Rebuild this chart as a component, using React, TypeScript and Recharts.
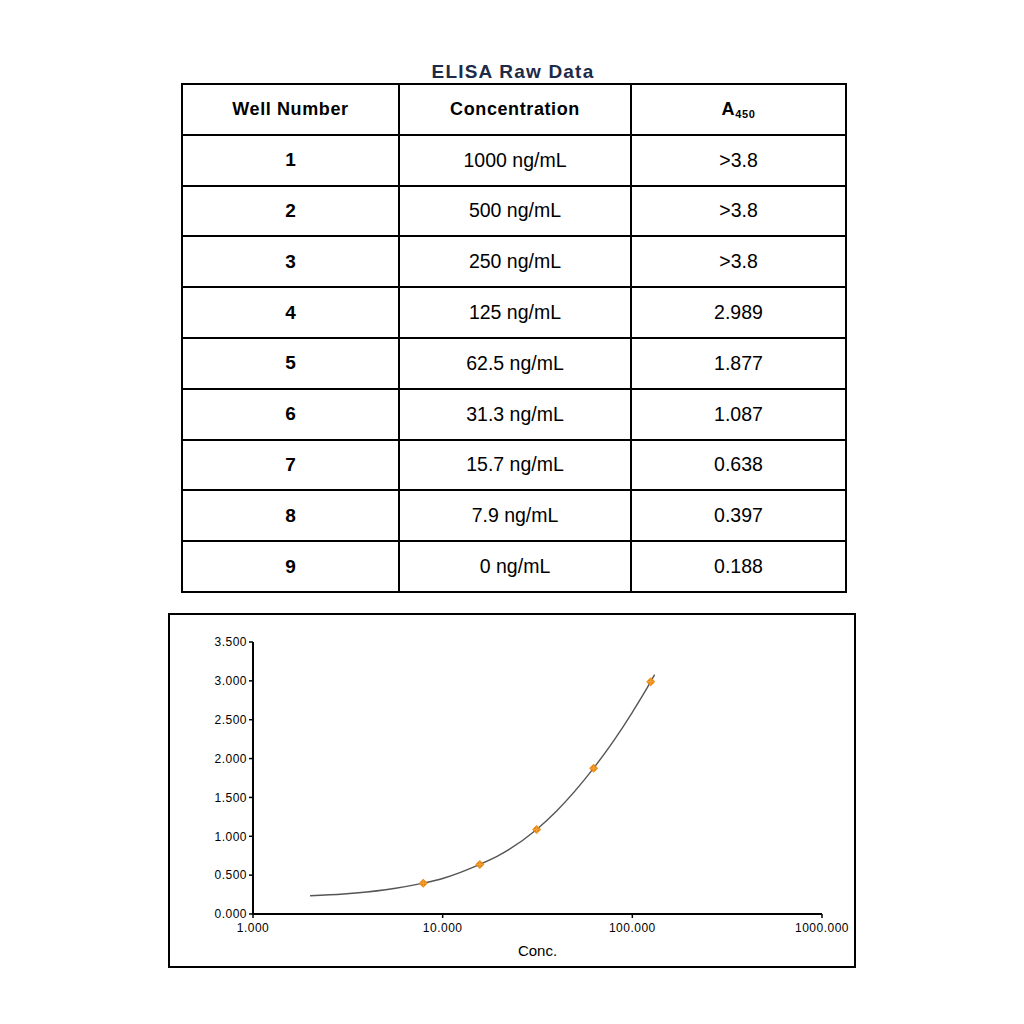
import React from "react"
import { ScatterChart, Scatter, XAxis, YAxis } from "recharts"

const wells = ["1", "2", "3", "4", "5", "6", "7", "8", "9"]
const concLabels = ["1000 ng/mL", "500 ng/mL", "250 ng/mL", "125 ng/mL", "62.5 ng/mL", "31.3 ng/mL", "15.7 ng/mL", "7.9 ng/mL", "0 ng/mL"]
const absLabels = [">3.8", ">3.8", ">3.8", "2.989", "1.877", "1.087", "0.638", "0.397", "0.188"]

// measured standards plotted on the curve
const stdConc = [7.9, 15.7, 31.3, 62.5, 125]
const stdAbs = [0.397, 0.638, 1.087, 1.877, 2.989]

// fitted curve
const fitConc = [2, 3, 5, 7.9, 10, 15.7, 20, 31.3, 40, 62.5, 80, 100, 125, 131]
const fitAbs = [0.235, 0.258, 0.312, 0.397, 0.457, 0.638, 0.761, 1.087, 1.329, 1.877, 2.235, 2.596, 2.989, 3.08]

const xTicks = [1, 10, 100, 1000]
const yTicks = [0, 0.5, 1, 1.5, 2, 2.5, 3, 3.5]

const points = stdConc.map((x, i) => ({ x, y: stdAbs[i] }))
const curve = fitConc.map((x, i) => ({ x, y: fitAbs[i] }))

const font = "'Liberation Sans', Arial, sans-serif"

const Marker = (props: any) => {
  const { cx, cy } = props
  if (cx == null || cy == null) return null
  return (
    <g>
      <path d={`M${cx - 4.5},${cy} L${cx},${cy - 4.5} L${cx + 4.5},${cy} L${cx},${cy + 4.5} Z`} fill="#E8860C" />
      <path d={`M${cx - 3.5},${cy} H${cx + 3.5} M${cx},${cy - 3.5} V${cy + 3.5}`} stroke="#F2A03A" strokeWidth={1.2} />
    </g>
  )
}

const cell: React.CSSProperties = {
  border: "2px solid #000",
  textAlign: "center",
  padding: 0,
  height: 48.8,
}

export default function App() {
  return (
    <div style={{ position: "absolute", left: 0, top: 0, width: 1024, height: 1024, background: "#fff", fontFamily: font }}>
      <div style={{ position: "absolute", left: 181, top: 61, width: 664, textAlign: "center", fontSize: 19, fontWeight: "bold", color: "#1d2a48", letterSpacing: 1.2 }}>
        ELISA Raw Data
      </div>

      <table style={{ position: "absolute", left: 181, top: 83, width: 664, borderCollapse: "collapse", tableLayout: "fixed", color: "#000" }}>
        <colgroup>
          <col style={{ width: 217 }} />
          <col style={{ width: 232 }} />
          <col style={{ width: 215 }} />
        </colgroup>
        <thead>
          <tr>
            <th style={{ ...cell, fontSize: 18, letterSpacing: 0.6 }}>Well Number</th>
            <th style={{ ...cell, fontSize: 18, letterSpacing: 0.6 }}>Concentration</th>
            <th style={{ ...cell, fontSize: 18, letterSpacing: 0.6 }}>
              A<sub style={{ fontSize: 11, verticalAlign: -3 }}>450</sub>
            </th>
          </tr>
        </thead>
        <tbody>
          {wells.map((w, i) => (
            <tr key={w}>
              <td style={{ ...cell, fontSize: 19, fontWeight: "bold" }}>{w}</td>
              <td style={{ ...cell, fontSize: 19.5 }}>{concLabels[i]}</td>
              <td style={{ ...cell, fontSize: 19.5 }}>{absLabels[i]}</td>
            </tr>
          ))}
        </tbody>
      </table>

      <div style={{ position: "absolute", left: 168, top: 613, width: 688, height: 355, border: "2px solid #000", boxSizing: "border-box", background: "#fff" }}>
        <ScatterChart width={684} height={351} margin={{ top: 27, right: 32, left: 0, bottom: 0 }}>
          <XAxis
            type="number"
            dataKey="x"
            scale="log"
            domain={[1, 1000]}
            ticks={xTicks}
            allowDataOverflow
            height={52}
            tickSize={4}
            tickMargin={5}
            tickFormatter={(v: number) => v.toFixed(3)}
            axisLine={{ stroke: "#000", strokeWidth: 2 }}
            tickLine={{ stroke: "#000", strokeWidth: 1.5 }}
            tick={{ fill: "#000", fontSize: 12, fontFamily: font, letterSpacing: 0.5 }}
            label={{ value: "Conc.", position: "insideBottom", offset: 10, fill: "#000", fontSize: 15, fontFamily: font }}
          />
          <YAxis
            type="number"
            dataKey="y"
            domain={[0, 3.5]}
            ticks={yTicks}
            width={83}
            tickSize={4}
            tickFormatter={(v: number) => v.toFixed(3)}
            axisLine={{ stroke: "#000", strokeWidth: 2 }}
            tickLine={{ stroke: "#000", strokeWidth: 1.5 }}
            tick={{ fill: "#000", fontSize: 12, fontFamily: font, letterSpacing: 0.5 }}
          />
          <Scatter
            data={curve}
            line={{ stroke: "#555", strokeWidth: 1.4 }}
            lineJointType="monotoneX"
            shape={() => null}
            isAnimationActive={false}
          />
          <Scatter data={points} shape={<Marker />} isAnimationActive={false} />
        </ScatterChart>
      </div>
    </div>
  )
}
